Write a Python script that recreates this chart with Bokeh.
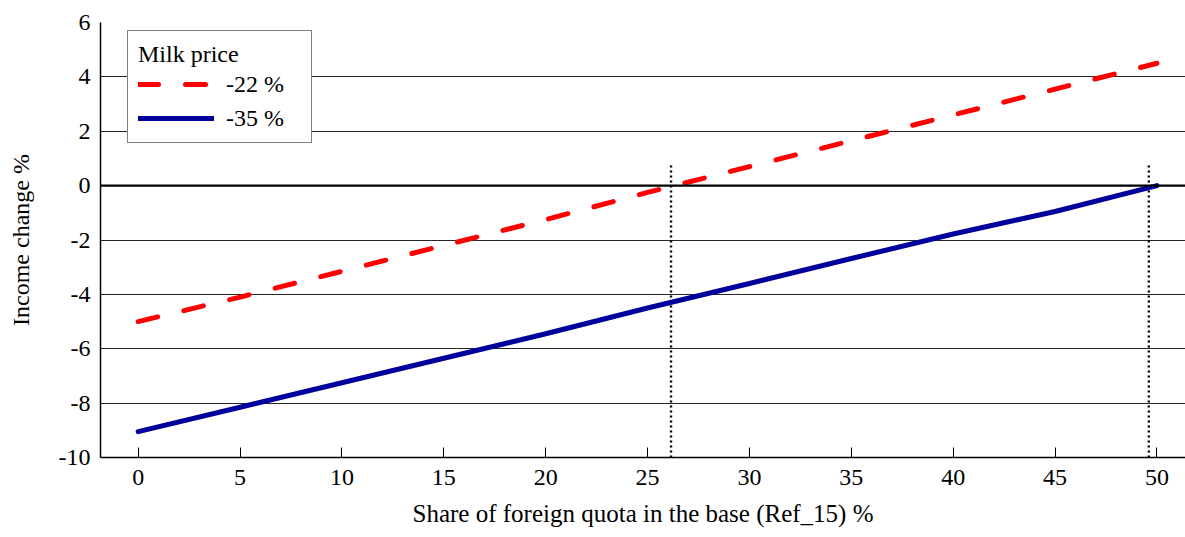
from bokeh.plotting import figure
from bokeh.models import Span, Range1d, FixedTicker, Legend, LegendItem, Title
from bokeh.embed import file_html
from bokeh.resources import INLINE

# Share of foreign quota in the base (%)
share = [0, 5, 10, 15, 20, 25, 30, 35, 40, 45, 50]
# Income change (%) for two milk price scenarios
income_m22 = [-5.0, -4.1, -3.15, -2.2, -1.25, -0.25, 0.7, 1.65, 2.6, 3.55, 4.5]
income_m35 = [-9.05, -8.15, -7.25, -6.35, -5.45, -4.5, -3.6, -2.68, -1.78, -0.95, 0.0]
# Break-even shares (income change = 0)
breakeven = [26.15, 49.6]
x_ticks = [0, 5, 10, 15, 20, 25, 30, 35, 40, 45, 50]
y_ticks = [-10, -8, -6, -4, -2, 0, 2, 4, 6]

FONT = "Liberation Serif"
X_TITLE = "Share of foreign quota in the base (Ref_15) %"

p = figure(width=1185, height=537, output_backend="svg", toolbar_location=None,
           x_range=Range1d(-1.85, 51.4), y_range=Range1d(-10, 6),
           min_border_left=100, min_border_right=0, min_border_top=22,
           min_border_bottom=80)
p.outline_line_color = None
p.background_fill_color = "white"

# axes
p.xaxis.ticker = FixedTicker(ticks=x_ticks)
p.yaxis.ticker = FixedTicker(ticks=y_ticks)
# plain hyphen for negative labels
p.yaxis.major_label_overrides = {t: str(t) for t in y_ticks}
p.xaxis.major_label_overrides = {t: str(t) for t in x_ticks}
p.yaxis.axis_label = "Income change %"
for ax in (p.xaxis, p.yaxis):
    ax.axis_line_color = "black"
    ax.axis_line_width = 1.5
    ax.major_label_text_font = FONT
    ax.major_label_text_font_size = "24px"
    ax.major_label_text_color = "black"
    ax.axis_label_text_font = FONT
    ax.axis_label_text_font_size = "24px"
    ax.axis_label_text_font_style = "normal"
    ax.axis_label_text_color = "black"
    ax.minor_tick_line_color = None
    ax.major_tick_line_color = "black"
p.xaxis.major_tick_in = 10
p.xaxis.major_tick_out = 0
p.xaxis.major_label_standoff = 12
p.yaxis.major_tick_in = 0
p.yaxis.major_tick_out = 0
p.yaxis.major_label_standoff = 10
p.yaxis.axis_label_standoff = 22

# x-axis title in the panel below the tick labels
p.add_layout(Title(text=X_TITLE, text_font=FONT, text_font_size="25px",
                   text_font_style="normal", text_color="black",
                   align="center", standoff=20, offset=-8), "below")

p.xgrid.grid_line_color = None
p.ygrid.grid_line_color = "black"
p.ygrid.grid_line_width = 1
p.ygrid.grid_line_alpha = 0.85

# zero line
p.add_layout(Span(location=0, dimension="width", line_color="black", line_width=2.2))

# break-even markers
for b in breakeven:
    p.line([b, b], [-10, 0.8], line_color="black", line_width=2.4, line_dash="2 3")

r1 = p.line(share, income_m22, line_color="#ff0000", line_width=5,
            line_dash="20 27", line_cap="round")
r2 = p.line(share, income_m35, line_color="#00009c", line_width=5, line_cap="round")

legend = Legend(items=[LegendItem(label="-22 %", renderers=[r1]),
                       LegendItem(label="-35 %", renderers=[r2])],
                location=(27, 314))
legend.title = "Milk price"
legend.title_text_font = FONT
legend.title_text_font_size = "24px"
legend.title_text_font_style = "normal"
legend.title_text_color = "black"
legend.title_standoff = 2
legend.label_text_font = FONT
legend.label_text_font_size = "24px"
legend.label_text_color = "black"
legend.label_height = 28
legend.glyph_height = 28
legend.label_width = 75
legend.border_line_color = "black"
legend.border_line_width = 1
legend.background_fill_alpha = 1
legend.glyph_width = 76
legend.label_standoff = 12
legend.padding = 10
legend.spacing = 6
legend.margin = 0
p.add_layout(legend)

open("out.html", "w").write(file_html(p, INLINE))
